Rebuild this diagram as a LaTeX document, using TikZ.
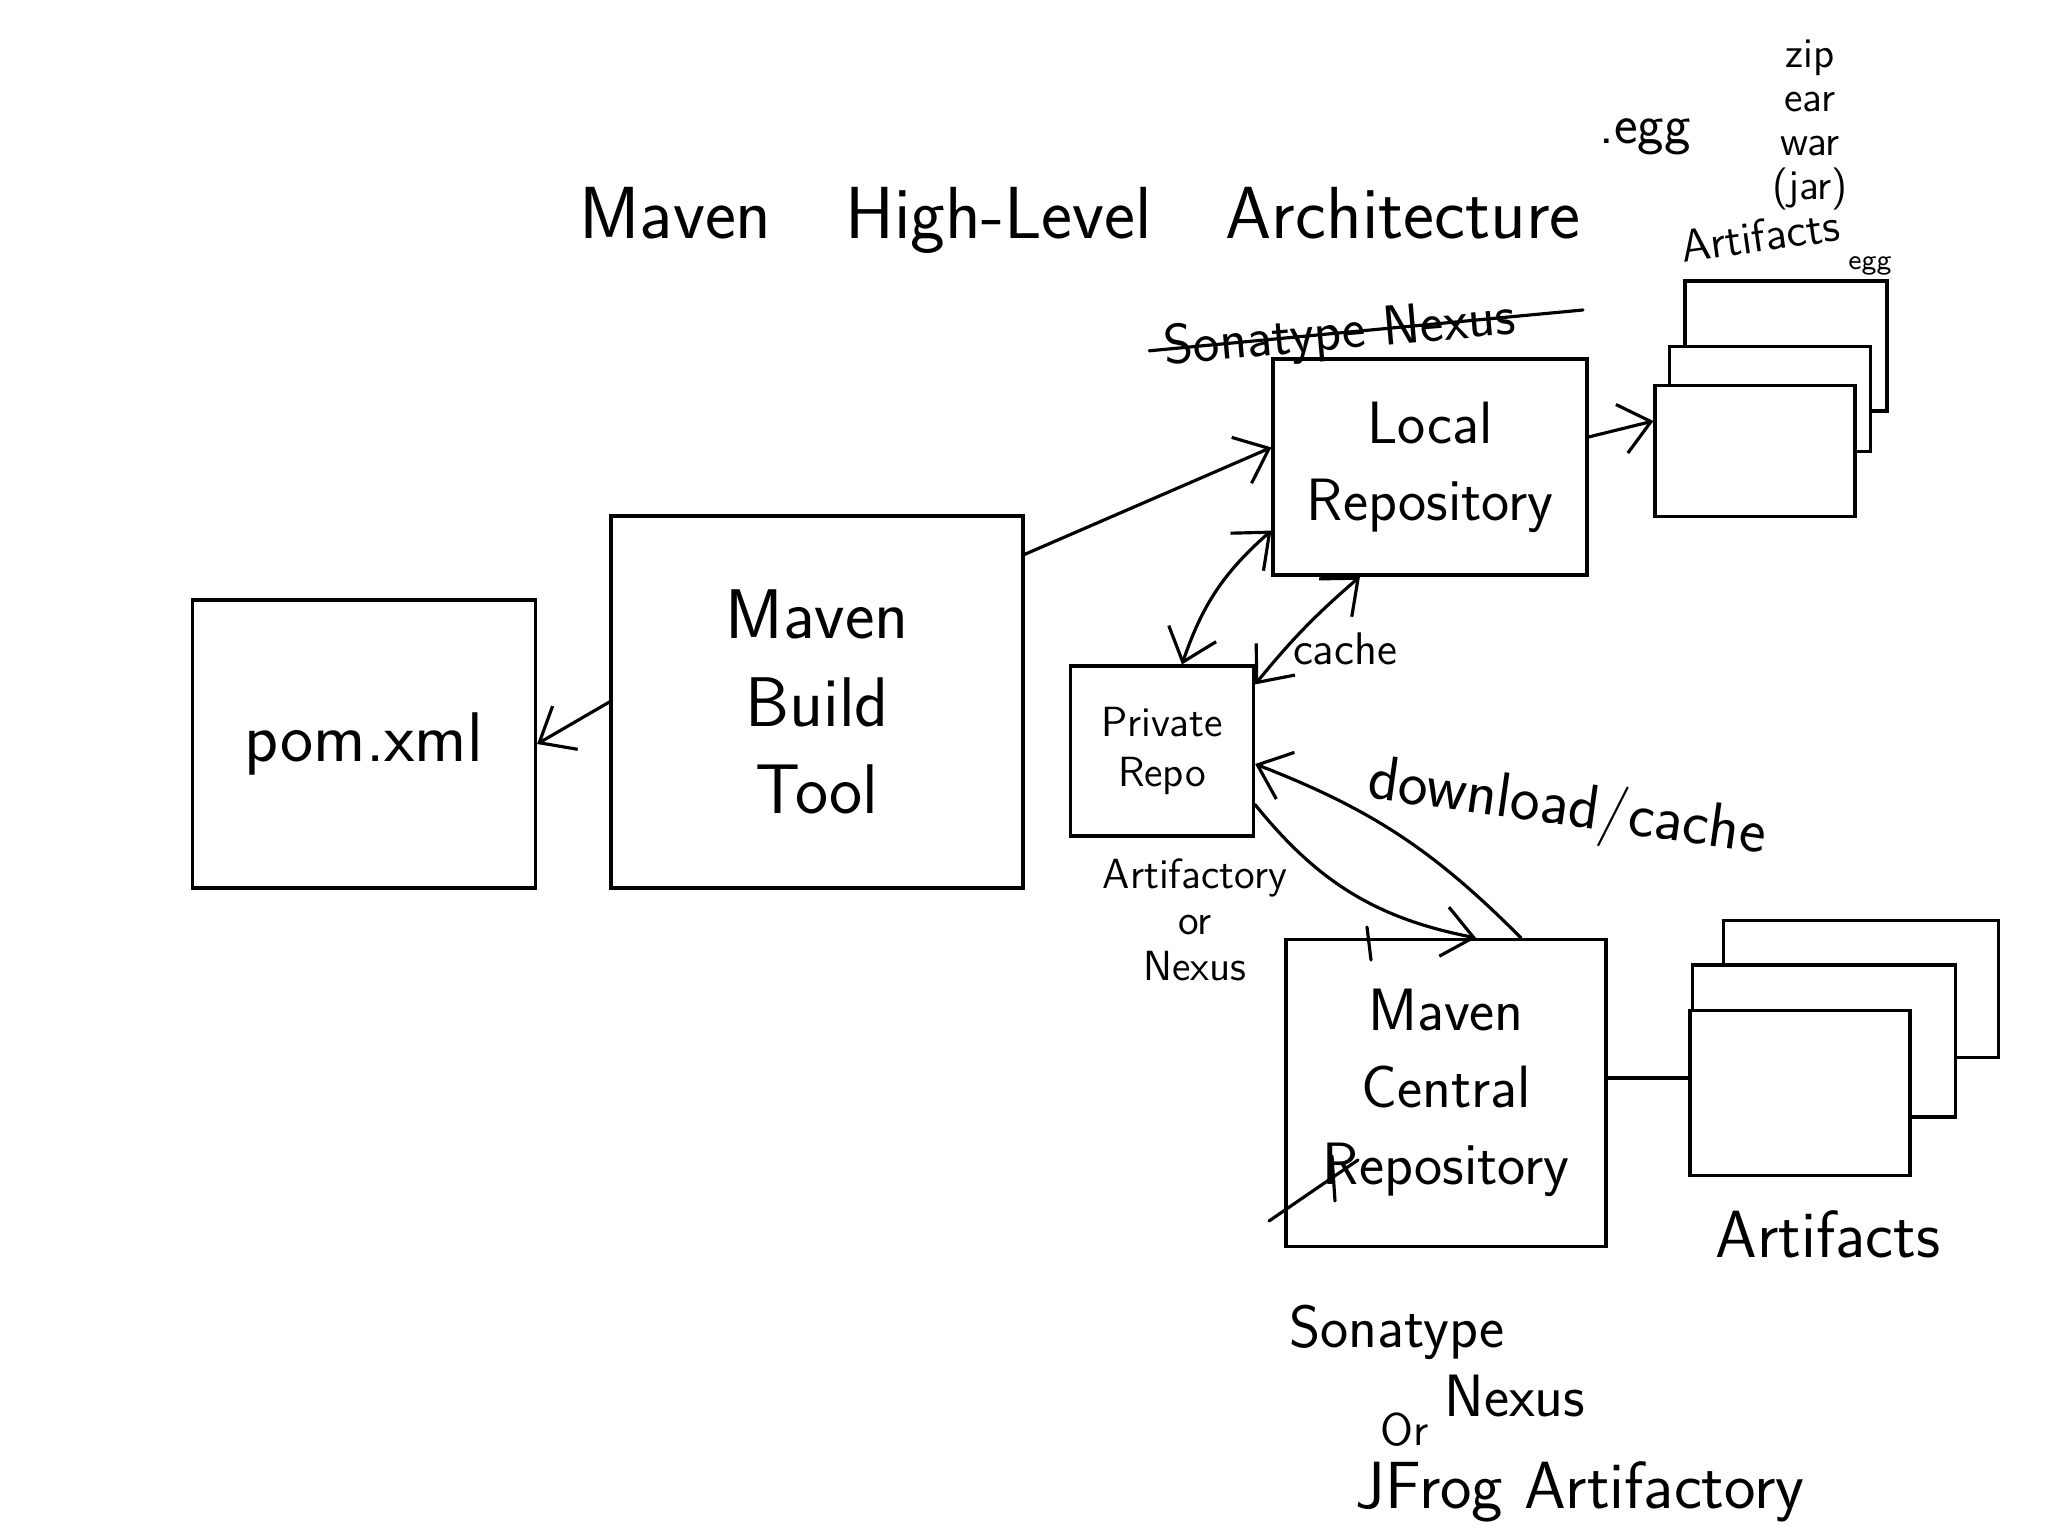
\documentclass[tikz,border=0pt]{standalone}
\usetikzlibrary{arrows.meta}
\newcommand{\fs}[2]{\sffamily\fontsize{#1}{#2}\selectfont}
\begin{document}
\begin{tikzpicture}[line width=0.9pt, line cap=round,
                    >={Straight Barb[length=3mm,width=5mm]},
                    box/.style={draw, inner sep=0pt, align=center, font=\fs{20}{25}},
                    artbox/.style={draw, fill=white, inner sep=0pt},
                    lbl/.style={align=center, inner sep=1pt}]
                    \useasboundingbox[fill=white] (0,0) rectangle (20.48,-15.36);

                    \node[font=\fs{21}{25}] (title) at (10.8,-2.2) {Maven\quad High-Level\quad Architecture};

                    % boxes
                    \node[box, minimum width=3.43cm, minimum height=2.88cm] (pom) at (3.64,-7.44) {pom.xml};
                    \node[box, minimum width=4.12cm, minimum height=3.72cm] (tool) at (8.17,-7.02) {Maven\\Build\\Tool};
                    \node[box, minimum width=3.14cm, minimum height=2.16cm, font=\fs{17}{22}] (local) at (14.30,-4.67) {Local\\Repository};
                    \node[box, minimum width=1.83cm, minimum height=1.70cm, font=\fs{12}{14}] (priv) at (11.62,-7.51) {Private\\Repo};
                    \node[box, minimum width=3.20cm, minimum height=3.07cm, font=\fs{17}{22}] (central) at (14.46,-10.93) {Maven\\Central\\Repository};

                    % artifact stacks
                    \node[artbox, minimum width=2.02cm, minimum height=1.30cm] (artTopC) at (17.86,-3.46) {};
                    \node[artbox, minimum width=2.01cm, minimum height=1.05cm] (artTopB) at (17.70,-3.99) {};
                    \node[artbox, minimum width=2.00cm, minimum height=1.31cm] (artTop) at (17.55,-4.51) {};
                    \node[artbox, minimum width=2.75cm, minimum height=1.37cm] (artBotC) at (18.61,-9.89) {};
                    \node[artbox, minimum width=2.63cm, minimum height=1.52cm] (artBotB) at (18.24,-10.41) {};
                    \node[artbox, minimum width=2.20cm, minimum height=1.65cm] (artBot) at (18.00,-10.93) {};

                    % labels
                    \node[lbl, font=\fs{16}{18}] (egg) at (16.45,-1.37) {.egg};
                    \node[lbl, font=\fs{12}{12.5}] (types) at (18.10,-1.25) {zip\\ear\\war\\(jar)};
                    \node[lbl, font=\fs{13}{15}, rotate=8] (artTopLbl) at (17.60,-2.36) {Artifacts};
                    \node[lbl, font=\fs{8}{9}] (eggSmall) at (18.70,-2.66) {egg};
                    \node[lbl, font=\fs{16}{18}, rotate=5] (nexusOld) at (13.40,-3.35) {Sonatype Nexus};
                    \coordinate (strikeEnd) at (15.83,-3.10);
                    \node[lbl, font=\fs{13}{15}] (cacheLbl) at (13.45,-6.49) {cache};
                    \node[lbl, font=\fs{18}{20}, rotate=-8] (dlLbl) at (15.67,-8.10) {download/cache};
                    \node[lbl, font=\fs{12}{13}] (privLbl) at (11.95,-9.20) {Artifactory\\or\\Nexus};
                    \node[lbl, font=\fs{19}{22}] (artBotLbl) at (18.28,-12.34) {Artifacts};
                    \node[lbl, font=\fs{17}{20}] (sona) at (13.97,-13.32) {Sonatype};
                    \node[lbl, font=\fs{17}{20}] (nexus) at (15.15,-13.96) {Nexus};
                    \node[lbl, font=\fs{13}{15}] (orLbl) at (14.05,-14.30) {Or};
                    \node[lbl, font=\fs{19}{22}] (jfrog) at (15.80,-14.92) {JFrog Artifactory};

                    % connectors
                    \draw[->] (tool.west) -- (pom.east);
                    \draw[->] ([yshift=-4mm]tool.north east) -- ([yshift=-9mm]local.north west);
                    \draw[<->] ([yshift=4.6mm]local.south west) to[bend right=15] ([xshift=2mm]priv.north);
                    \draw[<->] ([yshift=-2mm]priv.north east) to[bend left=5] ([xshift=-7mm]local.south);
                    \draw[->] ([xshift=7.5mm]central.north) to[bend right=12] ([yshift=-1.3mm]priv.east);
                    \draw[->] ([yshift=3.3mm]priv.south east) to[bend right=20] ([xshift=3mm]central.north);
                    \draw[->] ([yshift=3mm]local.east) -- ([yshift=3mm]artTop.west);
                    \draw ([yshift=1.5mm]central.east) -- ([yshift=1.5mm]artBot.west);
                    \draw ([xshift=-1mm]nexusOld.west) -- (strikeEnd);

                    % stray strokes
                    \draw (12.69,-12.21) -- (13.58,-11.60);
                    \draw (13.32,-11.56) -- (13.35,-12.01);
                    \draw (13.67,-9.27) -- (13.71,-9.60);
                \end{tikzpicture}
\end{document}
